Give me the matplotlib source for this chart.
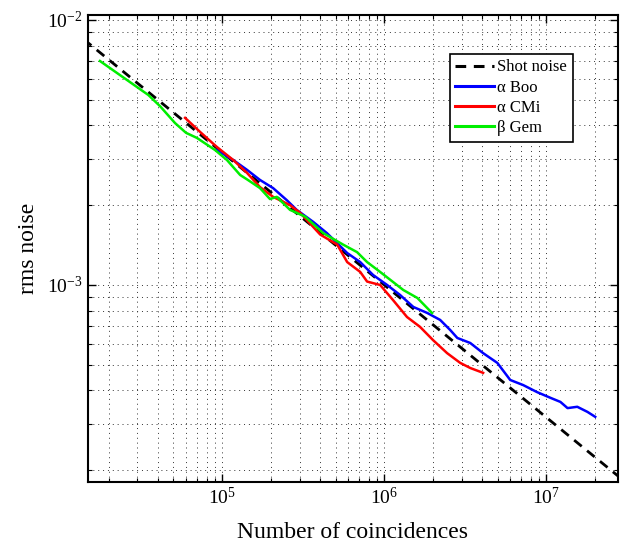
import numpy as np
import matplotlib
matplotlib.use("Agg")
import matplotlib.pyplot as plt

plt.rcParams['font.family'] = ['Liberation Serif', 'DejaVu Serif']
plt.rcParams['mathtext.fontset'] = 'stix'

# shot noise reference (two end points of a straight log-log line)
shot_n = [1.4e4, 2.8e7]
shot_rms = [8.45e-3, 1.89e-4]

# alpha Boo
boo_n = [9.25e4, 1.17e5, 1.42e5, 1.71e5, 2.06e5, 2.50e5, 2.88e5, 3.64e5, 4.42e5,
         5.90e5, 7.10e5, 8.53e5, 1.04e6, 1.25e6, 1.51e6, 1.84e6, 2.21e6, 2.55e6,
         2.82e6, 3.39e6, 4.07e6, 4.98e6, 5.98e6, 7.19e6, 8.77e6, 1.06e7, 1.22e7,
         1.35e7, 1.55e7, 1.79e7, 2.0e7]
boo_rms = [3.23e-3, 2.96e-3, 2.72e-3, 2.49e-3, 2.32e-3, 2.09e-3, 1.92e-3, 1.73e-3, 1.57e-3,
           1.32e-3, 1.22e-3, 1.09e-3, 1.00e-3, 9.17e-4, 8.26e-4, 7.84e-4, 7.38e-4, 6.76e-4,
           6.31e-4, 6.04e-4, 5.53e-4, 5.08e-4, 4.38e-4, 4.19e-4, 3.94e-4, 3.75e-4, 3.62e-4,
           3.43e-4, 3.47e-4, 3.32e-4, 3.18e-4]

# alpha CMi
cmi_n = [5.90e4, 7.30e4, 9.25e4, 1.17e5, 1.42e5, 1.71e5, 2.06e5, 2.62e5, 3.03e5, 4.02e5,
         5.12e5, 5.90e5, 7.10e5, 7.83e5, 9.42e5, 1.13e6, 1.38e6, 1.66e6, 2.00e6, 2.44e6,
         2.94e6, 3.39e6, 4.07e6]
cmi_rms = [4.27e-3, 3.78e-3, 3.32e-3, 2.96e-3, 2.65e-3, 2.34e-3, 2.15e-3, 2.00e-3, 1.87e-3, 1.55e-3,
           1.42e-3, 1.22e-3, 1.12e-3, 1.03e-3, 1.00e-3, 8.78e-4, 7.57e-4, 6.95e-4, 6.19e-4, 5.53e-4,
           5.08e-4, 4.86e-4, 4.66e-4]

# beta Gem
gem_n = [1.76e4, 3.50e4, 4.13e4, 5.12e4, 5.98e4, 6.97e4, 9.03e4, 1.07e5, 1.29e5, 1.44e5,
         1.71e5, 1.97e5, 2.17e5, 2.62e5, 3.25e5, 4.19e5, 5.57e5, 6.79e5, 7.83e5, 9.42e5,
         1.09e6, 1.31e6, 1.60e6, 1.97e6]
gem_rms = [7.0e-3, 5.21e-3, 4.73e-3, 4.08e-3, 3.75e-3, 3.59e-3, 3.23e-3, 2.96e-3, 2.60e-3, 2.49e-3,
           2.32e-3, 2.11e-3, 2.15e-3, 1.92e-3, 1.81e-3, 1.57e-3, 1.42e-3, 1.33e-3, 1.22e-3, 1.12e-3,
           1.045e-3, 9.57e-4, 8.93e-4, 7.84e-4]

fig = plt.figure(figsize=(6.2, 5.47), dpi=100)
ax = fig.add_axes([0.1415, 0.1194, 0.997 - 0.1415, 0.9726 - 0.1194])

ax.loglog(shot_n, shot_rms, color='black', lw=2.0, ls=(0, (3.5, 2.5)), label='Shot noise')
ax.loglog(boo_n, boo_rms, color='#0000ff', lw=1.8, label=r'α Boo')
ax.loglog(cmi_n, cmi_rms, color='#ff0000', lw=1.8, label=r'α CMi')
ax.loglog(gem_n, gem_rms, color='#00ee00', lw=1.8, label=r'β Gem')

ax.set_xlim(1.48e4, 2.77e7)
ax.set_ylim(1.81e-4, 1.044e-2)

ax.grid(True, which='both', ls=(0, (1, 4)), color='#333333', lw=0.7)
ax.tick_params(which='both', direction='in', top=True, right=True, labelsize=14)
ax.tick_params(which='major', length=6, width=1)
ax.tick_params(which='minor', length=3, width=0.8)
for s in ax.spines.values():
    s.set_linewidth(1.5)

ax.set_xlabel('Number of coincidences', fontsize=17, labelpad=10)
ax.set_ylabel('rms noise', fontsize=17, labelpad=6)

leg = ax.legend(loc='upper right', bbox_to_anchor=(0.93, 0.935), fontsize=12,
                frameon=True, fancybox=False, edgecolor='black', framealpha=1,
                handlelength=2.3, borderpad=0.35, labelspacing=0.25, handletextpad=0.2)
leg.get_frame().set_linewidth(1.2)
for ln in leg.get_lines():
    ln.set_linewidth(2.2)

fig.savefig('out.png', dpi=100)
